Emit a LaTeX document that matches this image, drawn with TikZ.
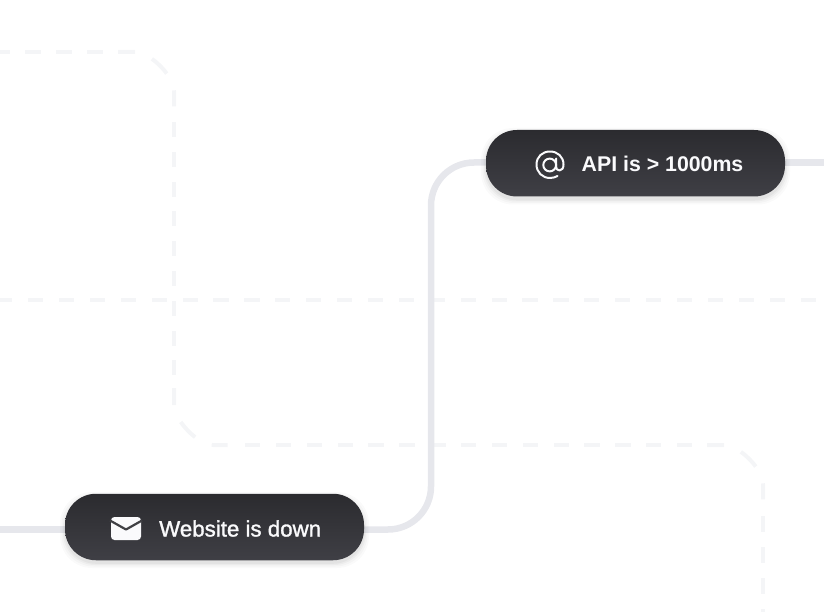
\documentclass[tikz,border=0pt]{standalone}
\usepackage{fontspec}
\setmainfont{Liberation Sans}
\newfontfamily\medfont[FakeBold=1.4]{Liberation Sans}
\usetikzlibrary{backgrounds}
\definecolor{wire}{HTML}{E6E7EC}
\definecolor{guide}{HTML}{F4F5F7}
\definecolor{pilltop}{HTML}{2B2B2F}
\definecolor{pillbot}{HTML}{3F3F45}
\definecolor{ink}{HTML}{FAFAFC}
\tikzset{
  pill/.style={minimum width=299pt,minimum height=66.5pt,inner sep=0pt,rounded corners=31pt,top color=pilltop,bottom color=pillbot,draw=none},
  halo/.style={fill=black,rounded corners=32pt,draw=none},
  wireline/.style={draw=wire,line width=6.5pt,line cap=butt},
  guideline/.style={draw=guide,line width=4pt},
  cornerdash/.style={guideline,dash pattern=on 17pt off 18.5pt on 21pt off 18.5pt on 16pt},
  label/.style={text=ink,inner sep=0pt,anchor=base west},
}
\begin{document}
\begin{tikzpicture}[x=1pt,y=-1pt]
\useasboundingbox (0,0) rectangle (824,612);
\coordinate (leftend) at (0,529.5);
\coordinate (rightend) at (824,162.5);
\coordinate (bend) at (431,340);
\foreach \a/\g in {0.018/5,0.025/3.5,0.03/2,0.04/0.8}{
  \fill[halo,opacity=\a] (65-\g,494+3-\g) rectangle (364+\g,560+3+\g);
  \fill[halo,opacity=\a] (486-\g,130+3-\g) rectangle (785+\g,196.5+3+\g);
}
\node[pill] (web) at (214.5,527) {};
\node[pill] (api) at (635.5,163.25) {};
\begin{scope}[on background layer]
  % guides
  \draw[guideline,dash pattern=on 15.2pt off 15.7pt,dash phase=2.9pt] (0,300) -- (824,300);
  \draw[guideline,dash pattern=on 15.4pt off 15.5pt,dash phase=5.6pt] (0,52) -- (103,52);
  \draw[cornerdash] (118,52) -- (135,52) .. controls (150,52) and (174,76) .. (174,91) -- (174,107);
  \draw[guideline,dash pattern=on 15pt off 14.8pt] (174,122) -- (174,375.4);
  \draw[cornerdash] (174,388) -- (174,405) .. controls (174,420) and (198,445) .. (213,445) -- (230,445);
  \draw[guideline,dash pattern=on 15.4pt off 15.45pt] (245,445) -- (692,445);
  \draw[cornerdash] (707,445) -- (724,445) .. controls (739,445) and (763,469) .. (763,484) -- (763,501);
  \draw[guideline,dash pattern=on 16pt off 15pt] (763,516) -- (763,612);
  % wires
  \draw[wireline] (leftend) -- ([yshift=-2.5pt]web.west);
  \draw[wireline] ([yshift=0.75pt]api.east) -- (rightend);
  \draw[wireline,rounded corners=43pt] ([yshift=-2.5pt]web.east) -| (bend) |- ([yshift=0.75pt]api.west);
\end{scope}
\node[label,font=\fontsize{22.3}{26}\medfont] (weblabel) at (159,536.5) {Website is down};
\node[label,font=\fontsize{21.3}{26}\selectfont\bfseries] (apilabel) at (581.5,172) {API is > 1000ms};
% envelope icon
\fill[ink,rounded corners=3.5pt] (111,517) rectangle (141,540);
\draw[pilltop!90!white,line width=2.2pt,line join=round] (110,520.5) -- (126,529.5) -- (142,520.5);
% at-sign icon
\draw[ink,line width=2pt,line cap=round,line join=round]
  (557.5,176) .. controls (555.5,177.2) and (552.8,178) .. (550,178)
  .. controls (542.3,178) and (536.5,172.2) .. (536.5,164.5)
  .. controls (536.5,156.8) and (542.3,151.5) .. (550,151.5)
  .. controls (557.7,151.5) and (563.5,156.8) .. (563.5,164.5)
  .. controls (563.5,168) and (562,170.5) .. (559.5,170.5)
  .. controls (557,170.5) and (556,168.5) .. (556,166)
  -- (556,158.5);
\draw[ink,line width=2pt] (549.7,165) circle[radius=6.4pt];
\end{tikzpicture}
\end{document}
